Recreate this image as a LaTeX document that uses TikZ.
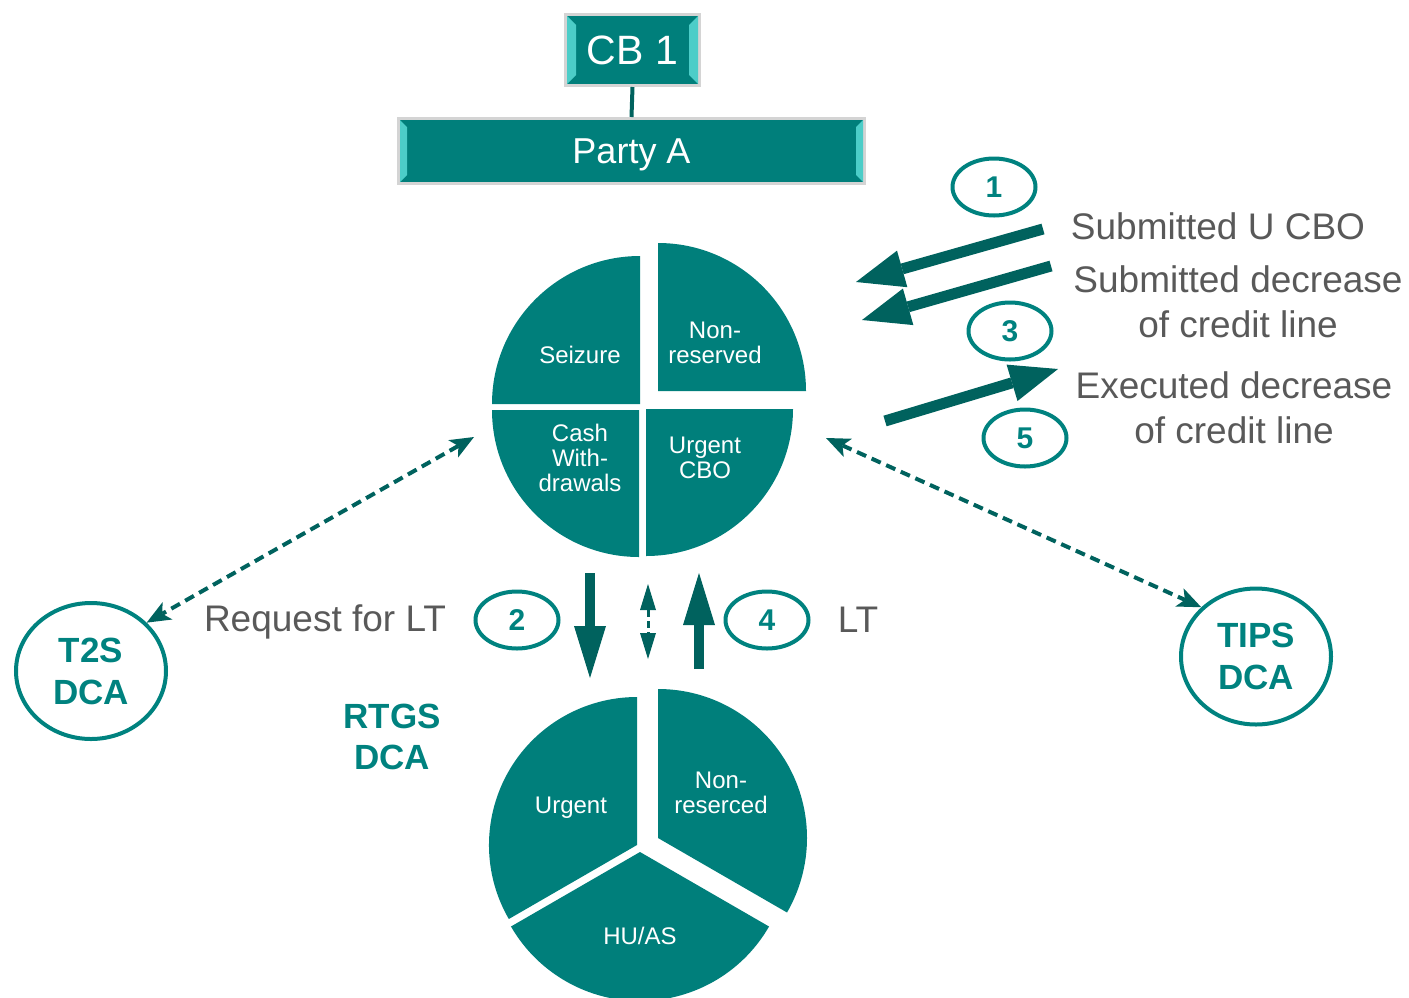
\documentclass[tikz,border=0pt]{standalone}
\usepackage{fontspec}
\setmainfont{Liberation Sans}
\usetikzlibrary{arrows.meta,shapes.geometric}
\definecolor{tealfill}{HTML}{007F7B}
\definecolor{tealdark}{HTML}{00625E}
\definecolor{tealtxt}{HTML}{00827F}
\definecolor{bevel}{HTML}{4CCDC8}
\definecolor{graytxt}{HTML}{595959}
\definecolor{boxborder}{HTML}{D4D4D4}
\begin{document}
\begin{tikzpicture}[x=1pt,y=-1pt,
  pielabel/.style={text=white,align=center,inner sep=0pt,font=\fontsize{24}{25}\selectfont},
  graylabel/.style={text=graytxt,align=center,inner sep=0pt,font=\fontsize{37}{45}\selectfont},
  numell/.style={ellipse,draw=tealtxt,line width=4pt,minimum width=83pt,minimum height=57pt,inner sep=0pt,text=tealtxt,font=\bfseries\fontsize{30}{30}\selectfont},
  dcaell/.style={ellipse,draw=tealtxt,line width=4pt,minimum width=150pt,minimum height=136pt,inner sep=0pt,text=tealtxt,align=center,font=\bfseries\fontsize{35}{42}\selectfont},
  bevelbox/.style={rectangle,fill=tealfill,draw=boxborder,line width=3pt,inner sep=0pt,text=white},
  bigarrow/.style={draw=tealdark,line width=11pt,-{Triangle[length=48pt,width=38pt,line width=0pt]}},
  vertarrow/.style={draw=tealdark,line width=10pt,-{Triangle[length=52pt,width=32pt,line width=0pt]}},
  dasharrow/.style={draw=tealdark,line width=4pt,dash pattern=on 10pt off 6pt,{Stealth[length=24pt,width=20pt,inset=6pt,line width=0pt]}-{Stealth[length=24pt,width=20pt,inset=6pt,line width=0pt]}},
  smallarrow/.style={draw=tealdark,line width=3pt,dash pattern=on 7pt off 4pt,{Triangle[length=26pt,width=16pt,line width=0pt]}-{Triangle[length=26pt,width=16pt,line width=0pt]}}
]
\useasboundingbox (0,0) rectangle (1409,997);

% ---------- CB 1 and Party A boxes ----------
\node[bevelbox,minimum width=134pt,minimum height=71pt] (cb1) at (632.5,50) {};
\fill[bevel] (567,16) -- (576,25) -- (576,75) -- (567,84) -- cycle;
\fill[bevel] (698,16) -- (689,25) -- (689,75) -- (698,84) -- cycle;
\node[text=white,inner sep=0pt,font=\fontsize{41}{41}\selectfont] (cb1t) at (632.5,50) {CB 1};

\node[bevelbox,minimum width=466pt,minimum height=65pt] (party) at (631.5,151) {};
\fill[bevel] (400,120) -- (407,127) -- (407,175) -- (400,182) -- cycle;
\fill[bevel] (863,120) -- (856,127) -- (856,175) -- (863,182) -- cycle;
\node[text=white,inner sep=0pt,font=\fontsize{36}{36}\selectfont] (partyt) at (631.5,155) {Party A};

\draw[tealdark,line width=4pt] (cb1.south) -- (party.north);

% ---------- top pie ----------
\fill[tealfill] (640,404) -- ++(180:148) arc[start angle=180,end angle=270,radius=148] -- cycle;
\fill[tealfill] (658,391) -- ++(270:148) arc[start angle=270,end angle=360,radius=148] -- cycle;
\fill[tealfill] (639,410) -- ++(90:147) arc[start angle=90,end angle=180,radius=147] -- cycle;
\fill[tealfill] (646,409) -- ++(0:147) arc[start angle=0,end angle=90,radius=147] -- cycle;
\node[pielabel] (seiz) at (580,355) {Seizure};
\node[pielabel] (nonres) at (715,343) {Non-\\reserved};
\node[pielabel] (cash) at (580,458) {Cash\\With-\\drawals};
\node[pielabel] (ucbo) at (705,458) {Urgent\\CBO};

% ---------- bottom pie ----------
\fill[tealfill] (637,845) -- ++(150:148) arc[start angle=150,end angle=270,radius=148] -- cycle;
\fill[tealfill] (658,838) -- ++(-90:149) arc[start angle=-90,end angle=30,radius=149] -- cycle;
\fill[tealfill] (640,852) -- ++(30:149) arc[start angle=30,end angle=150,radius=149] -- cycle;
\node[pielabel] (urg) at (571,808) {Urgent};
\node[pielabel] (nonresb) at (721,793) {Non-\\reserced};
\node[pielabel] (huas) at (640,936) {HU/AS};

% ---------- labels ----------
\node[text=tealtxt,align=center,inner sep=0pt,font=\bfseries\fontsize{35}{41}\selectfont] (rtgs) at (392,737) {RTGS\\DCA};
\node[graylabel] (req) at (325,622) {Request for LT};
\node[graylabel] (lt) at (858,620) {LT};
\node[graylabel] (sub1) at (1218,226) {Submitted U CBO};
\node[graylabel] (sub2) at (1238,302) {Submitted decrease\\of credit line};
\node[graylabel] (exe) at (1234,408) {Executed decrease\\of credit line};

% ---------- numbered ellipses ----------
\node[numell] (n1) at (994,187) {1};
\node[numell] (n3) at (1010,331) {3};
\node[numell] (n5) at (1025,438) {5};
\node[numell] (n2) at (517,620) {2};
\node[numell] (n4) at (767,620) {4};

% ---------- DCA circles ----------
\node[dcaell] (t2s) at (91,671) {T2S\\DCA};
\node[dcaell] (tips) at (1256,656.5) {TIPS\\DCA};

% ---------- arrows ----------
\coordinate (a1s) at (1043,229);
\coordinate (a1e) at (856,282);
\coordinate (a2s) at (1051,266);
\coordinate (a2e) at (862,320);
\coordinate (a5s) at (885,421);
\coordinate (a5e) at (1058,369);
\draw[bigarrow] (a1s) -- (a1e);
\draw[bigarrow] (a2s) -- (a2e);
\draw[bigarrow] (a5s) -- (a5e);

\coordinate (dns) at (590,573);
\coordinate (dne) at (590,678);
\coordinate (ups) at (699,669);
\coordinate (upe) at (699,573);
\coordinate (sms) at (648,584);
\coordinate (sme) at (648,659);
\draw[vertarrow] (dns) -- (dne);
\draw[vertarrow] (ups) -- (upe);
\draw[smallarrow] (sms) -- (sme);

\coordinate (pieL) at (474,437);
\coordinate (pieR) at (826,438);
\draw[dasharrow] (pieL) -- (t2s.41);
\draw[dasharrow] (pieR) -- (tips.138);
\end{tikzpicture}
\end{document}
